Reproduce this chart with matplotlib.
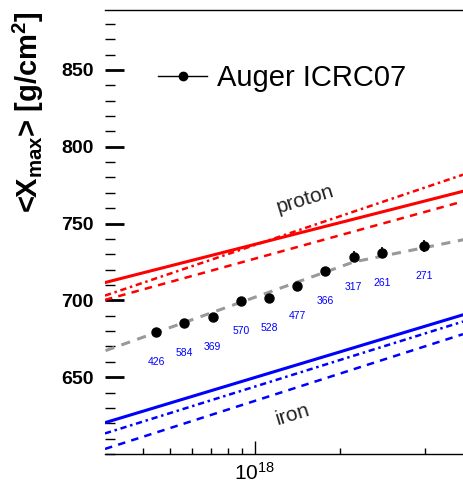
import matplotlib
matplotlib.use('Agg')
import matplotlib.pyplot as plt
from matplotlib.lines import Line2D
from matplotlib.ticker import FixedLocator, NullFormatter, FixedFormatter
import numpy as np

plt.rcParams['font.family'] = ['Liberation Sans', 'DejaVu Sans']
plt.rcParams['mathtext.fontset'] = 'custom'
plt.rcParams['mathtext.rm'] = 'Liberation Sans'
plt.rcParams['mathtext.bf'] = 'Liberation Sans:bold'
plt.rcParams['mathtext.it'] = 'Liberation Sans:italic'

# Auger ICRC07 data (log10 E/eV)
lgE = [17.65, 17.75, 17.85, 17.95, 18.05, 18.15, 18.25, 18.35, 18.45, 18.60]
xmax = [679.3, 685.5, 689.4, 699.9, 701.6, 709.4, 719.0, 728.5, 731.1, 735.3]
xmax_err = [1.5, 1.5, 1.5, 2.0, 2.0, 2.5, 2.5, 3.5, 3.5, 4.0]
n_events = ['426', '584', '369', '570', '528', '477', '366', '317', '261', '271']

# broken-line fit through the data
fit_lgE = [17.47, 18.35, 18.74]
fit_xmax = [667.3, 725.0, 739.5]

# model predictions, proton and iron (solid, dash-dot, dashed)
model_lgE = [17.468, 18.738]
proton_solid = [711.6, 771.0]
proton_dashdot = [703.1, 781.8]
proton_dashed = [700.3, 764.4]
iron_solid = [620.4, 690.6]
iron_dashdot = [613.4, 686.2]
iron_dashed = [603.3, 678.0]

red = '#ff0000'
blue = '#0000ff'

fig = plt.figure(figsize=(4.63, 4.83), dpi=100)
ax = fig.add_axes([105 / 463, 1 - 454 / 483, 358 / 463, 444 / 483])

E_model = 10 ** np.array(model_lgE)
ax.plot(E_model, proton_solid, color=red, lw=2.2, ls='-')
ax.plot(E_model, proton_dashdot, color=red, lw=1.8, dashes=(2.5, 1.5, 1, 1.5))
ax.plot(E_model, proton_dashed, color=red, lw=1.8, dashes=(3, 2.5))
ax.plot(E_model, iron_solid, color=blue, lw=2.2, ls='-')
ax.plot(E_model, iron_dashdot, color=blue, lw=1.8, dashes=(2.5, 1.5, 1, 1.5))
ax.plot(E_model, iron_dashed, color=blue, lw=1.8, dashes=(3, 2.5))

ax.plot(10 ** np.array(fit_lgE), fit_xmax, color='#999999', lw=2.2, dashes=(3, 2.5))

E = 10 ** np.array(lgE)
ax.errorbar(E, xmax, yerr=xmax_err, fmt='o', color='black', ms=6.5,
            elinewidth=1.2, capsize=0, zorder=5)
for e, x, n in zip(E, xmax, n_events):
    ax.annotate(n, (e, x), xytext=(0, -30), textcoords='offset pixels',
                ha='center', va='center', fontsize=7.5, color=blue)

ax.text(10 ** 18.177, 765.5, 'proton', fontsize=15, color='#222222',
        rotation=17, ha='center', va='center')
ax.text(10 ** 18.135, 625.4, 'iron', fontsize=15, color='#222222',
        rotation=17, ha='center', va='center')

ax.set_xscale('log')
ax.set_xlim(10 ** 17.468, 10 ** 18.738)
ax.set_ylim(600, 889)

ax.xaxis.set_major_locator(FixedLocator([1e18]))
ax.xaxis.set_major_formatter(FixedFormatter([r'$\mathregular{10^{18}}$']))
ax.xaxis.set_minor_locator(FixedLocator([4e17, 5e17, 6e17, 7e17, 8e17, 9e17, 2e18, 4e18]))
ax.xaxis.set_minor_formatter(NullFormatter())
ax.set_yticks([650, 700, 750, 800, 850])
ax.set_yticks(np.arange(600, 890, 10), minor=True)

ax.tick_params(axis='y', which='major', direction='in', length=14, width=2,
               labelsize=14, pad=8, right=False)
ax.tick_params(axis='y', which='minor', direction='in', length=7, width=1, right=False)
ax.tick_params(axis='x', which='major', direction='in', length=9.5, width=1,
               labelsize=15, pad=5.5, top=False)
ax.tick_params(axis='x', which='minor', direction='in', length=4, width=1, top=False)
for lab in ax.get_yticklabels():
    lab.set_fontweight('bold')

ax.spines['left'].set_visible(False)
ax.spines['right'].set_visible(False)
ax.spines['top'].set_linewidth(1)
ax.spines['bottom'].set_linewidth(1)

fig.text(28 / 463, 1 - 112 / 483, r'<X$_{\mathbf{max}}$> [g/cm$^{\mathbf{2}}$]',
         rotation=90, ha='center', va='center', fontsize=21, fontweight='bold')

handle = Line2D([], [], color='black', marker='o', ms=6, lw=1)
ax.legend([handle], ['Auger ICRC07'], loc='center left',
          bbox_to_anchor=((158 - 105) / 358, (454 - 78) / 444),
          frameon=False, fontsize=21, borderpad=0, borderaxespad=0,
          handlelength=1.68, handletextpad=0.35)

fig.savefig('out.png', dpi=100)
